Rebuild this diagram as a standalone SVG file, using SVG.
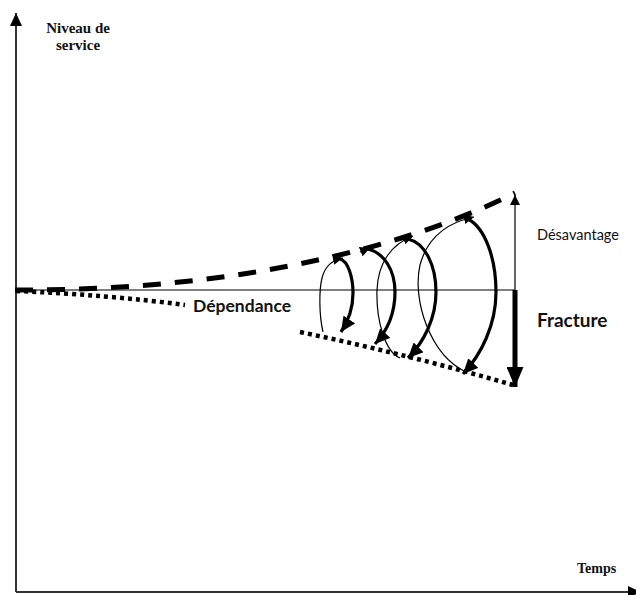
<svg xmlns="http://www.w3.org/2000/svg" width="636" height="595" viewBox="0 0 636 595">
<style>
.serif{font-family:"Liberation Serif","Times New Roman",serif;font-weight:bold;fill:#111}
.sans{font-family:Lato,"Open Sans",sans-serif;fill:#111}
.axis{stroke:#333;stroke-width:2;fill:none}
.base{stroke:#555;stroke-width:1.5;fill:none}
.dash{stroke:#000;stroke-width:5;fill:none;stroke-dasharray:18 14}
.dot{stroke:#000;stroke-width:4.5;fill:none;stroke-dasharray:4 4}
.thick{stroke:#000;stroke-width:3.2;fill:none}
.thin{stroke:#000;stroke-width:1.2;fill:none}
</style>
<defs>
<marker id="aAxis" markerUnits="userSpaceOnUse" markerWidth="14" markerHeight="12" refX="13" refY="6" orient="auto"><path d="M0,0 L13,6 L0,12 z" fill="#000"/></marker>
<marker id="aThick" markerUnits="userSpaceOnUse" markerWidth="16" markerHeight="14" refX="15" refY="7" orient="auto"><path d="M0,0 L15,7 L0,14 z" fill="#000"/></marker>
<marker id="aThin" markerUnits="userSpaceOnUse" markerWidth="11" markerHeight="10" refX="10" refY="5" orient="auto"><path d="M0,0 L10,5 L0,10 z" fill="#000"/></marker>
<marker id="aBig" markerUnits="userSpaceOnUse" markerWidth="21" markerHeight="17" refX="20" refY="8.5" orient="auto"><path d="M0,0 L20,8.5 L0,17 z" fill="#000"/></marker>
</defs>

<g id="axes">
<path class="axis" d="M16,592 L16,13" marker-end="url(#aAxis)"/>
<path class="axis" d="M16,592 L641,592" marker-end="url(#aAxis)"/>
</g>

<g id="connectors">
<path class="base" d="M16,290 L515,290"/>
<path class="dash" d="M15,290 C200,291 380,260 515,193"/>
<path class="dot" d="M16,291 Q110,295 185,305"/>
<path class="dot" d="M300,332 Q410,355 513,385"/>
<!-- loop 1 -->
<path class="thin" d="M323,332 C319,315 319,290 322,278 C325,266 332,260 343,258" marker-end="url(#aThin)"/>
<path class="thick" d="M340,259 C348,261 353,277 353,293 C353,308 349,320 341,332" marker-end="url(#aThick)"/>
<!-- loop 2 -->
<path class="thin" d="M360,252 L370,248" marker-end="url(#aThin)"/>
<path class="thick" d="M368,249 C384,253 395,270 395,292 C395,312 388,330 375,344" marker-end="url(#aThick)"/>
<!-- loop 3 -->
<path class="thin" d="M400,358 C385,352 376,320 377,290 C378,262 392,244 413,236" marker-end="url(#aThin)"/>
<path class="thick" d="M408,239 C425,243 436,265 436,292 C436,318 424,342 408,358" marker-end="url(#aThick)"/>
<!-- loop 4 -->
<path class="thin" d="M466,372 C430,355 412,300 420,265 C428,235 450,222 474,217" marker-end="url(#aThin)"/>
<path class="thick" d="M468,219 C485,228 496,258 496,292 C496,325 481,355 463,374" marker-end="url(#aThick)"/>
<!-- side arrows -->
<path class="thin" d="M515,290 L515,195" marker-end="url(#aThin)"/>
<path stroke="#000" stroke-width="5" fill="none" d="M515,290 L515,387" marker-end="url(#aBig)"/>
</g>

<g id="label-niveau"><text class="serif" font-size="15" text-anchor="middle"><tspan x="78" y="33">Niveau de</tspan><tspan x="78" y="50">service</tspan></text></g>
<g id="label-temps"><text class="serif" font-size="14" x="577" y="573">Temps</text></g>
<g id="label-dependance"><text class="sans" font-size="17.5" font-weight="bold" x="193" y="312">Dépendance</text></g>
<g id="label-fracture"><text class="sans" font-size="19" font-weight="bold" x="537" y="327">Fracture</text></g>
<g id="label-desavantage"><text class="sans" font-size="14.5" x="537" y="240">Désavantage</text></g>
</svg>
